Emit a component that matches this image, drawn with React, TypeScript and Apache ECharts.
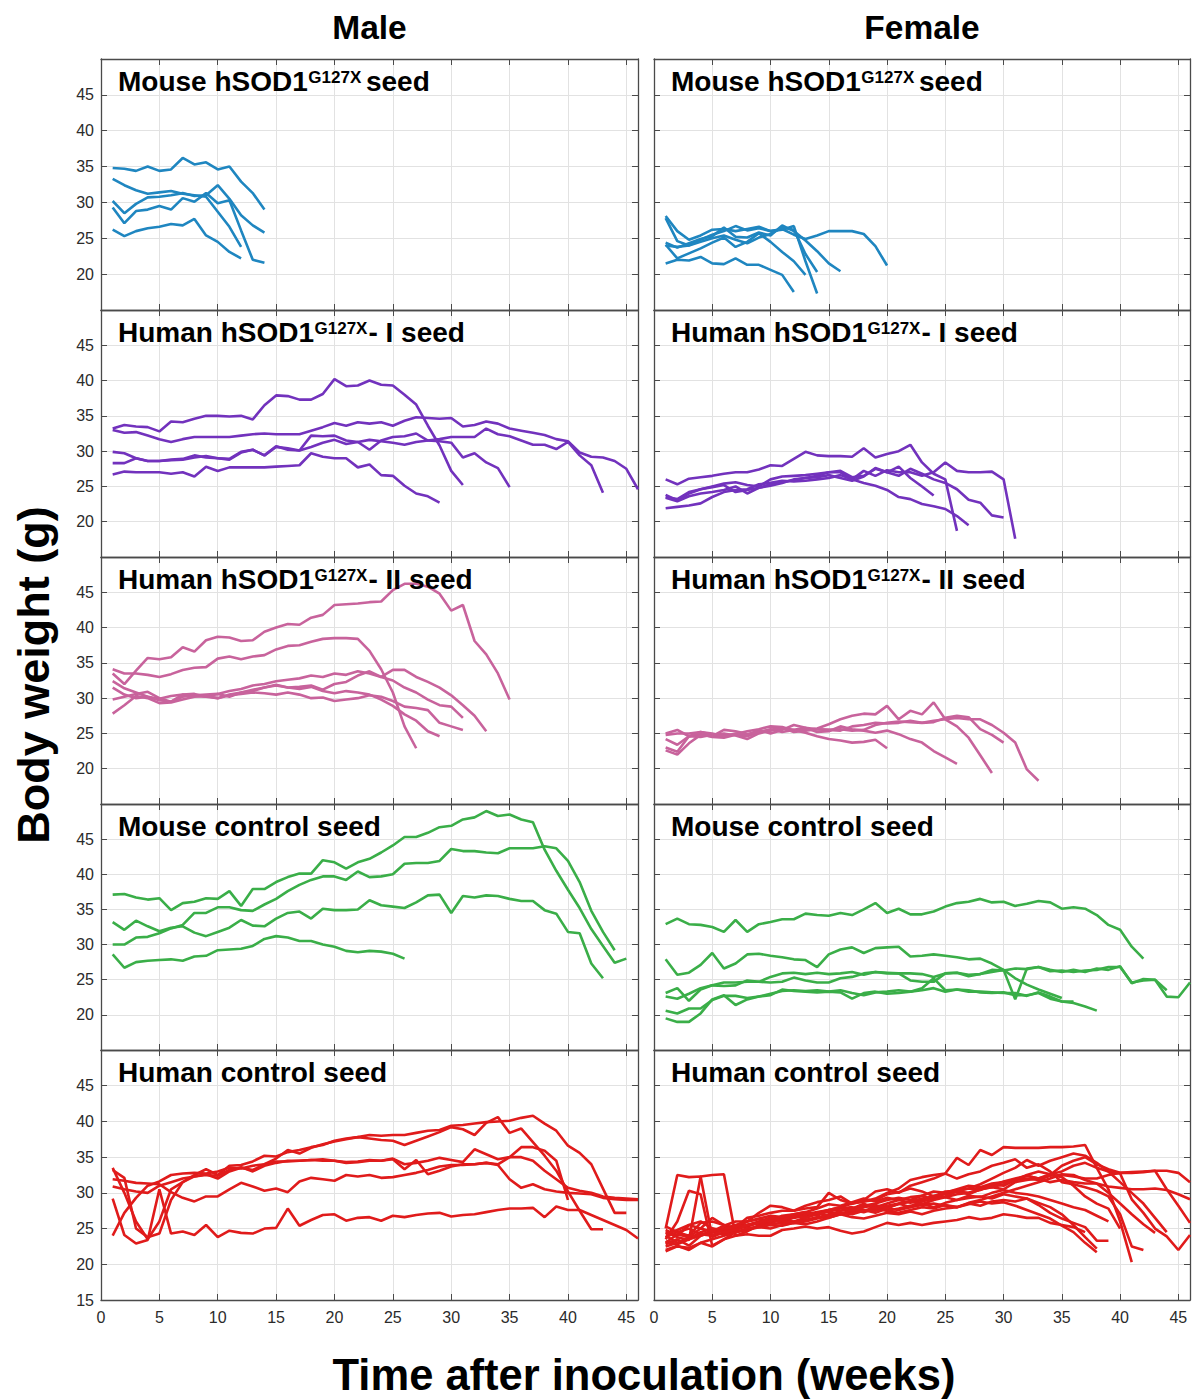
import React, { useEffect, useRef } from "react";
import * as echarts from "echarts";

// ---------- DATA (body weight in g, one value per week starting at week 1) ----------
const FIRST_WEEK = 1;

const columnLabels = ["Male", "Female"];
const rowTitles = [
  { a: "Mouse hSOD1", sup: "G127X", b: "seed", spaced: true },
  { a: "Human hSOD1", sup: "G127X", b: "- I seed", spaced: false },
  { a: "Human hSOD1", sup: "G127X", b: "- II seed", spaced: false },
  { a: "Mouse control seed", sup: "", b: "", spaced: false },
  { a: "Human control seed", sup: "", b: "", spaced: false },
];
const xTicks = [0, 5, 10, 15, 20, 25, 30, 35, 40, 45];
const yTicks = [15, 20, 25, 30, 35, 40, 45];

// Male – Mouse hSOD1 G127X seed
const maleMouseSeed = [
  [34.8, 34.7, 34.4, 35.0, 34.4, 34.6, 36.2, 35.3, 35.6, 34.6, 35.0, 32.9, 31.3, 29.0],
  [33.3, 32.4, 31.7, 31.2, 31.4, 31.6, 31.2, 31.0, 30.8, 28.7, 26.6, 23.8],
  [30.2, 28.5, 29.8, 30.7, 30.8, 31.0, 31.3, 30.9, 31.0, 32.4, 30.5, 28.2, 26.8, 25.8],
  [29.3, 27.1, 28.8, 29.0, 29.5, 29.0, 30.6, 30.1, 31.3, 29.9, 30.3, 26.1, 22.0, 21.6],
  [26.2, 25.3, 26.0, 26.4, 26.6, 27.0, 26.8, 27.7, 25.4, 24.5, 23.1, 22.2],
];
// Female – Mouse hSOD1 G127X seed
const femaleMouseSeed = [
  [28.1, 26.0, 24.8, 25.4, 26.2, 26.3, 26.0, 26.3, 26.6, 26.0, 26.2, 26.7, 21.8, 17.3],
  [27.8, 24.6, 24.0, 24.8, 25.5, 26.0, 26.7, 26.1, 26.4, 26.0, 26.3, 25.5, 24.9, 25.4, 26.0, 26.0, 26.0, 25.6, 23.9, 21.2],
  [24.4, 23.7, 24.3, 24.9, 25.3, 26.5, 25.2, 25.1, 25.8, 25.4, 26.8, 26.0, 24.7, 23.2, 21.5, 20.4],
  [24.0, 23.8, 24.0, 24.5, 25.0, 25.4, 24.8, 24.3, 25.1, 25.6, 26.5, 26.2, 22.8, 20.3],
  [24.1, 22.2, 22.9, 23.6, 24.4, 25.1, 23.8, 24.5, 25.7, 24.5, 23.1, 21.8, 19.9],
  [21.5, 22.0, 21.9, 22.4, 21.5, 21.4, 22.2, 21.3, 21.3, 20.6, 19.9, 17.5],
];
// Male – Human hSOD1 G127X - I seed
const maleHumanSeedI = [
  [33.2, 33.7, 33.5, 33.4, 32.8, 34.2, 34.1, 34.6, 35.0, 35.0, 34.9, 35.0, 34.5, 36.5, 37.9, 37.8, 37.3, 37.3, 38.1, 40.2, 39.2, 39.3, 40.0, 39.4, 39.3, 38.0, 36.6, 33.6, 30.8, 27.2, 25.2],
  [33.0, 32.6, 32.7, 32.2, 31.7, 31.3, 31.7, 32.0, 32.0, 32.0, 32.0, 32.2, 32.4, 32.5, 32.4, 32.4, 32.4, 32.9, 33.4, 34.0, 33.6, 34.1, 33.9, 34.1, 33.6, 34.3, 34.8, 34.7, 34.6, 34.7, 33.5, 33.7, 34.2, 33.9, 33.2, 32.9, 32.6, 32.3, 31.7, 31.4, 29.8, 29.2, 29.1, 28.6, 27.5, 24.6],
  [29.9, 29.7, 29.0, 28.6, 28.6, 28.8, 28.9, 29.4, 29.1, 29.0, 28.9, 29.9, 30.2, 29.4, 30.7, 30.2, 30.1, 32.2, 32.1, 32.2, 31.5, 31.3, 30.2, 31.5, 32.0, 32.1, 32.5, 31.5, 31.4, 31.2, 29.1, 29.7, 28.4, 27.6, 24.9],
  [28.3, 28.3, 29.0, 28.6, 28.6, 28.7, 28.8, 29.1, 29.3, 29.0, 28.8, 29.8, 30.2, 29.4, 30.6, 30.4, 30.1, 30.6, 31.2, 31.6, 31.0, 31.3, 31.6, 31.4, 31.2, 30.9, 31.3, 31.5, 31.7, 32.0, 32.0, 32.0, 33.2, 32.4, 32.1, 31.5, 30.9, 30.9, 30.3, 31.3, 29.4, 28.0, 24.1],
  [26.7, 27.1, 27.0, 27.0, 27.0, 26.8, 27.0, 26.4, 27.8, 27.2, 27.7, 27.7, 27.7, 27.7, 27.8, 27.9, 28.0, 29.7, 29.2, 29.0, 29.0, 27.7, 28.1, 26.6, 26.5, 25.1, 24.0, 23.6, 22.7],
];
// Female – Human hSOD1 G127X - I seed
const femaleHumanSeedI = [
  [26.0, 25.3, 26.1, 26.3, 26.5, 26.8, 27.0, 27.0, 27.4, 28.0, 27.9, 28.9, 29.9, 29.4, 29.3, 29.3, 29.2, 30.4, 29.1, 29.6, 30.0, 30.9, 28.4, 26.8, 26.0, 18.7],
  [23.8, 23.0, 24.0, 24.6, 25.0, 25.4, 25.6, 25.2, 25.0, 26.0, 26.4, 26.5, 26.6, 26.8, 27.0, 27.0, 26.0, 27.2, 26.5, 27.3, 27.0, 27.0, 26.5, 27.0, 28.4, 27.2, 27.0, 27.0, 27.1, 26.0, 17.6],
  [23.4, 22.9, 23.6, 24.0, 24.2, 24.5, 25.0, 24.0, 24.8, 25.1, 25.5, 26.0, 26.2, 26.5, 27.0, 27.2, 26.3, 26.5, 27.5, 27.0, 26.5, 27.5, 26.8, 26.0, 25.5, 24.6, 23.1, 22.7, 20.9, 20.6],
  [21.9, 22.1, 22.3, 22.6, 23.5, 24.2, 24.5, 24.6, 25.3, 25.5, 25.8, 25.7, 25.8, 26.0, 26.2, 26.6, 26.0, 25.5, 25.1, 24.5, 23.5, 23.2, 22.5, 22.2, 21.8, 20.8, 19.5],
  [23.5, 23.2, 24.2, 24.6, 24.9, 25.2, 24.2, 24.5, 24.8, 25.3, 25.6, 25.9, 26.2, 26.3, 26.6, 26.2, 25.8, 26.4, 27.6, 27.0, 27.8, 26.2, 25.0, 23.7],
];
// Male – Human hSOD1 G127X - II seed
const maleHumanSeedII = [
  [33.5, 32.0, 33.9, 35.7, 35.5, 35.8, 37.2, 36.6, 38.2, 38.7, 38.6, 38.1, 38.2, 39.4, 40.0, 40.5, 40.4, 41.4, 41.8, 43.2, 43.3, 43.4, 43.6, 43.7, 45.3, 46.2, 46.2, 45.8, 44.8, 42.4, 43.2, 38.1, 36.2, 33.5, 29.8],
  [34.1, 33.5, 33.5, 33.3, 33.0, 33.4, 34.0, 34.3, 34.4, 35.6, 35.9, 35.5, 35.9, 36.1, 36.9, 37.4, 37.5, 38.0, 38.4, 38.5, 38.5, 38.4, 36.7, 34.1, 30.8, 26.0, 22.9],
  [32.4, 31.4, 30.8, 30.2, 29.9, 30.3, 30.5, 30.3, 30.2, 30.6, 31.0, 31.3, 31.8, 32.0, 32.4, 32.6, 32.8, 33.2, 33.0, 33.5, 33.3, 33.8, 33.5, 33.0, 34.0, 34.0, 33.0, 32.3, 31.5, 30.4, 29.0, 27.5, 25.3],
  [31.5, 30.5, 30.0, 30.2, 29.7, 29.5, 30.2, 30.4, 30.5, 30.6, 30.2, 30.8, 31.0, 31.5, 31.9, 31.5, 31.6, 31.8, 31.2, 32.0, 32.3, 33.2, 33.8, 33.0, 32.5, 31.5, 30.8, 29.8, 29.0, 28.8, 27.2],
  [29.8, 30.2, 30.6, 30.9, 30.0, 29.5, 30.5, 30.6, 30.2, 30.0, 30.5, 30.8, 31.2, 31.5, 31.8, 31.5, 31.3, 31.6, 31.0, 30.7, 31.0, 30.8, 30.5, 29.8, 28.9, 27.7, 26.8, 25.3, 24.6],
  [27.8, 29.0, 30.3, 30.0, 29.3, 29.4, 29.8, 30.2, 30.3, 30.0, 30.4, 30.6, 30.8, 30.7, 30.5, 30.8, 30.5, 30.0, 30.1, 29.6, 29.8, 30.0, 30.4, 30.2, 29.6, 28.8, 28.6, 28.3, 26.5, 26.0, 25.5],
];
// Female – Human hSOD1 G127X - II seed
const femaleHumanSeedII = [
  [25.0, 25.5, 24.6, 24.9, 24.5, 24.4, 24.8, 24.6, 25.2, 25.6, 25.2, 25.5, 25.1, 24.6, 24.2, 24.0, 23.7, 23.8, 24.1, 22.9],
  [24.2, 23.4, 24.6, 24.5, 24.8, 25.0, 24.7, 24.2, 25.0, 25.4, 25.7, 25.5, 25.8, 25.2, 25.3, 26.0, 25.6, 25.4, 25.1, 25.4, 24.9, 24.2, 23.7, 22.5, 21.6, 20.7],
  [24.8, 25.0, 25.0, 25.2, 25.0, 24.6, 24.9, 25.3, 25.6, 26.0, 25.9, 25.4, 25.5, 25.7, 26.3, 27.0, 27.5, 27.8, 27.7, 28.9, 27.0, 28.2, 27.7, 29.4, 27.0, 26.0, 24.4, 21.9, 19.4],
  [23.0, 22.4, 24.6, 25.2, 24.8, 24.6, 25.0, 24.8, 25.5, 25.0, 25.5, 26.2, 25.8, 25.6, 25.5, 25.4, 26.0, 26.2, 26.5, 26.4, 26.5, 26.8, 26.5, 26.6, 27.2, 27.5, 27.3, 25.6, 24.8, 23.7],
  [22.6, 22.0, 23.6, 24.8, 24.6, 25.5, 25.3, 24.9, 25.2, 25.5, 25.8, 25.2, 25.4, 25.6, 25.5, 25.6, 25.4, 25.5, 26.2, 26.5, 26.7, 26.6, 26.5, 26.8, 27.0, 27.2, 27.0, 27.0, 26.2, 25.1, 23.7, 19.9, 18.3],
];
// Male – Mouse control seed
const maleMouseControl = [
  [37.1, 37.2, 36.7, 36.4, 36.6, 34.9, 35.9, 36.1, 36.6, 36.5, 37.6, 35.5, 37.9, 37.9, 38.9, 39.6, 40.1, 40.1, 42.0, 41.7, 40.8, 41.7, 42.2, 43.1, 44.1, 45.3, 45.3, 45.9, 46.7, 46.9, 47.8, 48.1, 49.0, 48.3, 48.5, 47.8, 47.4, 43.5, 40.5, 37.8, 35.2, 32.2, 29.8, 27.4, 28.0],
  [30.0, 30.0, 31.0, 31.1, 31.6, 32.3, 32.8, 34.5, 34.5, 35.3, 35.3, 34.9, 34.8, 35.7, 36.5, 37.6, 38.5, 39.2, 39.7, 39.7, 39.2, 40.4, 39.6, 39.7, 40.0, 41.5, 41.6, 41.6, 41.9, 43.6, 43.3, 43.3, 43.1, 43.0, 43.7, 43.7, 43.7, 44.0, 43.7, 41.9, 38.9, 34.8, 31.8, 29.2],
  [33.2, 32.1, 33.4, 32.6, 31.9, 32.4, 32.6, 31.7, 31.2, 31.8, 32.4, 33.5, 32.7, 32.6, 33.7, 34.5, 34.7, 33.7, 35.1, 34.9, 34.9, 35.0, 36.3, 35.6, 35.4, 35.2, 36.0, 37.0, 37.1, 34.5, 36.9, 36.7, 37.0, 36.9, 36.5, 36.2, 36.2, 34.9, 34.4, 31.8, 31.6, 27.3, 25.2],
  [28.6, 26.7, 27.5, 27.7, 27.8, 27.9, 27.7, 28.3, 28.4, 29.2, 29.3, 29.4, 29.8, 30.8, 31.2, 31.0, 30.5, 30.5, 30.0, 29.7, 29.1, 28.9, 29.1, 29.0, 28.7, 28.0],
];
// Female – Mouse control seed
const femaleMouseControl = [
  [32.9, 33.7, 32.9, 32.8, 32.5, 31.8, 33.5, 31.8, 32.9, 33.2, 33.6, 33.6, 34.4, 34.2, 34.1, 34.5, 34.2, 35.0, 35.9, 34.5, 35.1, 34.3, 34.3, 34.7, 35.4, 35.9, 36.1, 36.5, 36.0, 36.1, 35.5, 35.8, 36.2, 36.0, 35.1, 35.3, 35.1, 34.2, 32.8, 32.1, 29.7, 28.0],
  [27.9, 25.7, 26.0, 27.1, 28.8, 26.6, 27.3, 28.6, 28.7, 28.4, 28.2, 27.9, 27.8, 26.8, 28.6, 29.3, 29.6, 28.8, 29.5, 29.6, 29.7, 28.3, 28.4, 28.6, 28.4, 28.2, 27.9, 28.0, 27.3, 26.4, 25.2, 24.3, 23.6, 23.0, 22.4],
  [23.1, 23.8, 22.0, 23.6, 24.2, 24.1, 24.2, 24.9, 24.7, 24.6, 24.7, 25.3, 24.9, 24.6, 24.6, 25.2, 25.4, 25.9, 26.1, 26.0, 25.9, 25.9, 25.8, 25.4, 25.9, 26.0, 25.7, 25.8, 26.4, 26.3, 26.6, 26.5, 26.8, 26.2, 26.3, 26.1, 26.3, 26.4, 26.8, 26.8, 24.6, 24.9, 25.0, 22.6, 22.5, 24.6],
  [22.6, 22.3, 23.0, 23.8, 24.2, 24.6, 24.6, 24.7, 24.7, 25.4, 25.9, 26.0, 25.8, 26.0, 25.8, 25.9, 26.1, 25.7, 26.1, 25.9, 25.9, 24.9, 24.7, 24.7, 25.9, 26.0, 25.5, 25.8, 26.1, 26.4, 22.2, 26.6, 26.8, 26.4, 26.1, 26.4, 26.1, 26.6, 26.4, 26.9, 24.5, 25.1, 25.0, 23.5],
  [20.6, 20.2, 20.9, 20.9, 22.1, 22.7, 22.7, 22.4, 22.6, 22.8, 23.6, 23.4, 23.3, 23.2, 23.3, 23.2, 22.3, 23.1, 23.3, 23.0, 23.1, 23.3, 23.5, 23.8, 23.3, 23.6, 23.5, 23.2, 23.1, 23.2, 22.8, 22.8, 23.1, 22.3, 21.9, 21.9],
  [19.5, 19.0, 19.0, 20.2, 22.2, 22.8, 21.4, 22.2, 22.6, 23.0, 23.4, 23.5, 23.4, 23.5, 23.3, 23.5, 23.1, 22.8, 23.2, 23.3, 23.5, 23.3, 23.8, 25.2, 23.5, 23.6, 23.3, 23.3, 23.2, 23.1, 23.1, 22.7, 23.2, 22.6, 21.9, 21.7, 21.2, 20.6],
];
// Male – Human control seed
const maleHumanControl = [
  [33.5, 30.0, 26.0, 23.5, 26.0, 30.5, 31.5, 32.5, 33.3, 32.5, 33.8, 33.9, 34.4, 35.2, 35.1, 35.7, 36.0, 36.4, 36.7, 37.3, 37.6, 37.8, 38.1, 38.0, 38.1, 38.1, 38.4, 38.7, 38.8, 39.4, 39.5, 39.7, 39.9, 40.0, 40.1, 40.5, 40.8, 39.7, 38.7, 36.6, 35.6, 34.0, 30.6, 27.2, 27.2],
  [33.2, 32.1, 25.0, 23.8, 24.3, 29.0, 31.5, 32.3, 32.6, 32.0, 33.0, 33.5, 33.2, 34.0, 34.8, 36.0, 35.5, 36.3, 36.8, 37.2, 37.5, 37.8, 37.6, 37.4, 37.3, 36.7, 37.3, 37.9, 38.5, 39.2, 38.9, 38.1, 39.8, 40.6, 38.4, 39.0, 37.1, 35.2, 33.1, 30.2, 27.5, 24.9, 24.9],
  [31.9, 31.7, 31.4, 31.3, 31.2, 30.1, 29.3, 28.8, 29.5, 29.5, 30.5, 31.4, 30.9, 30.3, 30.6, 30.1, 31.6, 32.1, 31.9, 31.7, 32.5, 32.3, 32.5, 32.1, 32.2, 32.5, 32.8, 33.2, 33.7, 33.9, 33.9, 34.0, 34.2, 33.9, 31.9, 30.7, 31.2, 30.5, 30.2, 30.0, 29.9, 29.8, 29.3, 29.1, 29.0, 29.0],
  [24.0, 27.2, 29.3, 31.0, 31.6, 32.5, 32.7, 32.8, 32.7, 33.0, 33.5, 33.4, 33.8, 34.0, 34.4, 34.4, 34.5, 34.6, 34.7, 34.5, 34.3, 34.4, 34.6, 34.5, 34.8, 34.0, 34.2, 34.5, 34.9, 34.6, 34.3, 36.1, 35.4, 34.7, 35.0, 36.4, 36.4, 35.9, 34.5, 29.0],
  [30.9, 30.5, 30.2, 30.0, 31.0, 31.5, 32.0, 32.3, 32.5, 32.4, 33.2, 33.6, 33.0, 33.8, 34.2, 34.5, 34.5, 34.6, 34.5, 34.5, 34.2, 34.3, 34.5, 34.5, 34.7, 33.3, 34.6, 32.6, 33.1, 33.7, 34.0, 34.0, 34.2, 34.0, 35.0, 35.0, 34.5, 33.1, 31.9, 30.7, 30.3, 30.0, 29.5, 29.3, 29.2, 29.1],
  [29.2, 24.1, 22.9, 23.4, 30.5, 24.3, 24.6, 24.1, 25.5, 23.8, 24.7, 24.4, 24.3, 25.0, 25.1, 27.8, 25.4, 26.2, 26.9, 27.0, 26.1, 26.5, 26.6, 26.1, 26.8, 26.6, 26.9, 27.1, 27.2, 26.7, 26.9, 27.0, 27.3, 27.6, 27.8, 27.8, 27.9, 26.6, 28.1, 27.6, 27.6, 26.9, 26.2, 25.5, 24.8, 23.6],
];
// Female – Human control seed
const femaleHumanControl = [
  [25.0, 32.5, 32.2, 32.3, 23.8, 24.5, 25.0, 25.3, 25.8, 26.2, 26.0, 26.5, 26.8, 27.2, 27.6, 28.0, 28.5, 28.8, 29.2, 30.0, 30.6, 31.8, 32.2, 32.5, 32.7, 34.9, 33.9, 36.0, 35.3, 36.4, 36.3, 36.3, 36.3, 36.4, 36.4, 36.5, 36.7, 33.5, 30.5, 26.0, 20.3],
  [24.5, 23.8, 23.4, 32.3, 32.5, 32.6, 24.0, 24.6, 25.5, 25.8, 26.2, 26.0, 26.5, 27.0, 27.4, 27.0, 27.6, 28.2, 28.0, 28.5, 29.0, 28.6, 29.0, 29.6, 29.8, 30.2, 30.0, 30.4, 31.0, 31.6, 32.0, 32.4, 32.0, 32.5, 33.8, 34.5, 35.0, 34.0, 33.3, 32.8, 32.8, 32.9, 33.1, 33.1, 32.8, 31.5],
  [23.5, 26.0, 30.3, 29.8, 22.6, 23.5, 24.5, 25.0, 25.3, 25.6, 25.8, 26.0, 26.2, 26.6, 26.5, 27.0, 27.3, 27.6, 27.2, 27.8, 27.6, 28.0, 28.3, 28.5, 28.2, 28.0, 28.6, 29.0, 29.5, 30.0, 30.5, 31.0, 31.5, 32.0, 32.6, 32.5, 31.8, 31.3, 30.9, 30.7, 30.5, 30.5, 30.6, 30.4, 29.8, 29.1],
  [24.8, 24.0, 25.5, 25.0, 26.5, 25.5, 25.0, 26.0, 27.2, 28.2, 28.0, 27.5, 28.2, 28.7, 29.0, 29.5, 28.5, 29.0, 30.2, 30.5, 30.0, 31.0, 31.5, 32.0, 32.7, 32.0, 32.6, 33.0, 33.8, 34.2, 34.7, 33.5, 34.0, 33.0, 31.5, 31.2, 30.8, 30.3, 29.5, 27.0, 22.5, 22.0],
  [23.8, 24.5, 24.0, 25.8, 26.0, 25.5, 25.0, 25.5, 25.8, 26.0, 26.5, 26.8, 27.0, 27.3, 27.6, 27.5, 27.8, 28.2, 28.5, 29.0, 29.3, 29.0, 29.6, 30.2, 30.0, 30.5, 31.0, 30.8, 31.3, 31.5, 31.8, 32.0, 31.8, 32.4, 32.5, 32.3, 32.0, 32.0, 32.5, 32.8, 32.9, 33.0, 33.1, 30.5, 28.2, 25.8],
  [23.2, 22.8, 23.5, 24.0, 24.5, 24.2, 24.8, 25.5, 26.0, 26.5, 26.5, 26.8, 27.2, 27.0, 27.5, 27.8, 28.0, 27.6, 27.5, 28.0, 28.4, 28.8, 29.2, 29.5, 29.4, 29.8, 30.0, 30.5, 30.8, 30.5, 31.5, 31.8, 32.0, 32.6, 33.0, 33.8, 34.2, 33.5, 33.0, 32.7, 29.1, 27.2, 25.0, 23.9, 22.0, 24.1],
  [22.8, 23.5, 22.6, 24.0, 24.8, 25.0, 24.5, 24.8, 25.2, 25.5, 25.4, 25.8, 26.0, 26.4, 26.8, 27.0, 27.6, 27.3, 27.8, 27.5, 27.2, 27.6, 28.0, 27.8, 28.3, 28.0, 28.4, 28.8, 28.5, 28.7, 28.2, 27.6, 27.0, 26.4, 25.4, 24.5, 23.0, 21.7],
  [22.0, 22.6, 22.0, 23.0, 23.5, 24.0, 24.5, 25.0, 25.2, 25.0, 25.5, 25.8, 25.6, 26.0, 26.5, 27.0, 26.6, 26.4, 26.8, 27.2, 27.0, 27.4, 27.0, 27.5, 27.8, 28.0, 28.5, 28.2, 28.8, 29.0, 28.8, 29.2, 28.6, 28.0, 27.0, 25.5, 23.8, 22.2],
  [24.0, 23.0, 23.5, 24.5, 25.0, 24.8, 25.2, 25.5, 25.8, 26.2, 26.0, 25.8, 26.2, 26.5, 27.0, 27.2, 27.0, 27.5, 28.0, 27.5, 27.8, 28.2, 28.5, 28.0, 28.6, 29.0, 29.3, 29.5, 29.2, 29.8, 29.5, 29.2, 28.3, 27.2, 26.4, 25.8, 25.2, 23.3, 23.3],
  [22.5, 23.0, 23.8, 24.2, 24.5, 25.0, 25.5, 26.0, 26.3, 26.0, 26.8, 27.0, 27.3, 27.8, 28.4, 28.2, 28.7, 29.2, 28.8, 29.3, 29.0, 29.4, 29.6, 29.0, 30.0, 30.4, 30.6, 30.5, 31.2, 31.0, 31.8, 32.4, 32.0, 31.5, 31.8, 31.5, 31.3, 31.3, 30.0, 28.5, 27.0, 25.6, 24.4],
  [21.8, 22.5, 22.3, 23.0, 22.5, 23.5, 24.0, 24.2, 24.0, 24.0, 24.8, 25.0, 25.3, 25.0, 25.2, 24.7, 24.3, 24.6, 25.2, 25.8, 25.5, 25.8, 25.5, 25.8, 26.0, 26.2, 26.6, 26.3, 26.5, 27.0, 26.8, 26.5, 26.5, 25.8, 25.5, 25.2, 24.5],
  [25.3, 24.5, 25.0, 24.2, 24.0, 25.0, 25.2, 26.5, 26.8, 27.2, 27.5, 27.5, 27.8, 28.0, 30.0, 29.0, 28.5, 28.8, 29.0, 29.8, 30.1, 30.6, 30.2, 29.5, 30.2, 30.3, 29.8, 30.5, 30.8, 31.2, 31.8, 32.5, 33.0, 32.6, 32.2, 31.0, 29.5, 28.5, 27.8, 25.0],
  [24.2, 24.8, 25.5, 26.0, 25.0, 24.5, 24.8, 25.5, 25.8, 26.5, 26.2, 26.8, 26.5, 27.2, 26.8, 27.5, 27.8, 28.5, 27.8, 28.2, 28.5, 28.0, 28.8, 29.2, 29.5, 30.2, 30.6, 31.2, 32.0, 32.8, 33.5, 34.6, 33.8, 34.5, 35.0, 35.5, 35.2, 34.2, 33.0, 31.5, 30.0, 28.5, 26.5, 24.5],
  [23.0, 24.2, 23.8, 25.0, 24.6, 25.4, 26.0, 26.0, 26.4, 26.8, 26.6, 27.0, 27.3, 26.8, 27.6, 28.0, 27.5, 28.0, 28.3, 27.8, 28.5, 28.8, 28.4, 29.0, 29.4, 29.0, 29.6, 29.4, 30.0, 30.4, 30.0, 29.8, 29.5, 29.0, 28.5, 28.0, 27.6, 26.8, 26.0],
];

const rowColors = ["#1f86c0", "#7232bd", "#c8639c", "#3aae48", "#e01b1b"];
const panelData = [
  [maleMouseSeed, femaleMouseSeed],
  [maleHumanSeedI, femaleHumanSeedI],
  [maleHumanSeedII, femaleHumanSeedII],
  [maleMouseControl, femaleMouseControl],
  [maleHumanControl, femaleHumanControl],
];

// ---------- LAYOUT ----------
const COL_LEFT = [101, 654];
const COL_WIDTH = [537, 536];
const ROW_TOP = [59, 310, 557, 804, 1050];
const ROW_HEIGHT = [251, 247, 247, 246, 250];
const FONT = "'Liberation Sans', Arial, Helvetica, sans-serif";
const FRAME = "#4a4a4a";
const GRID = "#e2e2e2";
const LABEL = "#2b2b2b";
const TITLE_SIZE = 28;
const SUP_SIZE = 17;

function makeMeasurer() {
  const cv = document.createElement("canvas");
  const ctx = cv.getContext("2d");
  return (text: string, font: string) => {
    if (!ctx) return text.length * 14;
    ctx.font = font;
    return ctx.measureText(text).width;
  };
}

function buildOption() {
  const measure = makeMeasurer();
  const mainFont = `bold ${TITLE_SIZE}px ${FONT}`;
  const supFont = `bold ${SUP_SIZE}px ${FONT}`;
  const grid: any[] = [];
  const xAxis: any[] = [];
  const yAxis: any[] = [];
  const series: any[] = [];
  const graphic: any[] = [];
  const xMin = xTicks[0];
  const xMax = 46;
  const yMin = yTicks[0];
  const yMax = 50;
  let gi = 0;
  for (let r = 0; r < 5; r++) {
    for (let c = 0; c < 2; c++) {
      grid.push({ left: COL_LEFT[c], top: ROW_TOP[r], width: COL_WIDTH[c], height: ROW_HEIGHT[r], show: false });
      const bottom = r === 4;
      const line = { show: true, onZero: false, lineStyle: { color: FRAME, width: 1.3 } };
      const tick = { show: true, inside: true, length: 6, lineStyle: { color: FRAME, width: 1 } };
      xAxis.push({
        type: "value", gridIndex: gi, min: xMin, max: xMax, interval: 5, position: "bottom",
        axisLine: line, axisTick: tick,
        axisLabel: {
          show: bottom, margin: 9, fontSize: 16, color: LABEL, fontFamily: FONT,
          formatter: (v: number) => (xTicks.indexOf(v) >= 0 ? String(v) : ""),
        },
        splitLine: { show: true, lineStyle: { color: GRID, width: 1 } },
      });
      xAxis.push({
        type: "value", gridIndex: gi, min: xMin, max: xMax, interval: 5, position: "top",
        axisLine: line, axisTick: tick, axisLabel: { show: false }, splitLine: { show: false },
      });
      yAxis.push({
        type: "value", gridIndex: gi, min: yMin, max: yMax, interval: 5, position: "left",
        axisLine: line, axisTick: tick,
        axisLabel: {
          show: c === 0, margin: 7, fontSize: 16, color: LABEL, fontFamily: FONT,
          formatter: (v: number) => (yTicks.indexOf(v) >= 0 && (v !== yMin || bottom) ? String(v) : ""),
        },
        splitLine: { show: true, lineStyle: { color: GRID, width: 1 } },
      });
      yAxis.push({
        type: "value", gridIndex: gi, min: yMin, max: yMax, interval: 5, position: "right",
        axisLine: line, axisTick: tick, axisLabel: { show: false }, splitLine: { show: false },
      });
      panelData[r][c].forEach((vals: number[]) => {
        series.push({
          type: "line", xAxisIndex: gi * 2, yAxisIndex: gi * 2,
          data: vals.map((v, i) => [FIRST_WEEK + i, v]),
          symbol: "none", showSymbol: false, silent: true,
          lineStyle: { color: rowColors[r], width: 2.6 },
          z: 3,
        });
      });
      // panel title: main text + superscript + rest
      const t = rowTitles[r];
      const x0 = COL_LEFT[c] + 17;
      const yMain = ROW_TOP[r] + 22;
      const ySup = ROW_TOP[r] + 18.4;
      graphic.push({
        type: "text", x: x0, y: yMain, z: 10,
        style: { text: t.a, font: mainFont, fill: "#000", align: "left", verticalAlign: "middle" },
      });
      if (t.sup) {
        const xs = x0 + measure(t.a, mainFont) + 0.5;
        graphic.push({
          type: "text", x: xs, y: ySup, z: 10,
          style: { text: t.sup, font: supFont, fill: "#000", align: "left", verticalAlign: "middle" },
        });
        const gap = t.spaced ? measure(" ", supFont) : 1;
        const xb = xs + measure(t.sup, supFont) + gap;
        graphic.push({
          type: "text", x: xb, y: yMain, z: 10,
          style: { text: t.b, font: mainFont, fill: "#000", align: "left", verticalAlign: "middle" },
        });
      }
      gi++;
    }
  }
  columnLabels.forEach((lab, c) => {
    graphic.push({
      type: "text", x: COL_LEFT[c] + COL_WIDTH[c] / 2, y: 27,
      style: { text: lab, font: `bold 33.5px ${FONT}`, fill: "#000", align: "center", verticalAlign: "middle" },
    });
  });
  graphic.push({
    type: "text", x: 33, y: 675, rotation: Math.PI / 2,
    style: { text: "Body weight (g)", font: `bold 45px ${FONT}`, fill: "#000", align: "center", verticalAlign: "middle" },
  });
  graphic.push({
    type: "text", x: 644, y: 1375,
    style: { text: "Time after inoculation (weeks)", font: `bold 43.5px ${FONT}`, fill: "#000", align: "center", verticalAlign: "middle" },
  });
  return { animation: false, backgroundColor: "#fff", grid, xAxis, yAxis, series, graphic };
}

export default function App() {
  const ref = useRef<HTMLDivElement>(null);
  useEffect(() => {
    if (!ref.current) return;
    const chart = echarts.init(ref.current, undefined, { renderer: "svg" });
    chart.setOption(buildOption() as any);
    return () => chart.dispose();
  }, []);
  return (
    <div
      ref={ref}
      style={{ position: "absolute", left: 0, top: 0, width: 1196, height: 1399, background: "#fff" }}
    />
  );
}
